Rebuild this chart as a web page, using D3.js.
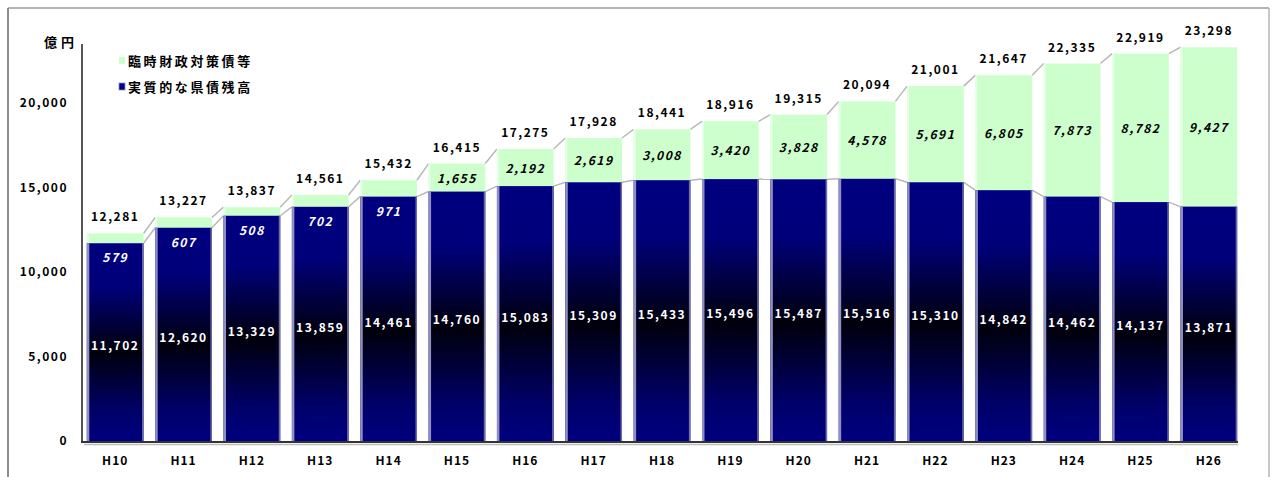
<!DOCTYPE html>
<html lang="ja">
<head>
<meta charset="utf-8">
<script src="https://cdn.jsdelivr.net/npm/d3@7"></script>
<style>
  html, body { margin: 0; padding: 0; background: #fff; }
  svg { display: block; }
  text { font-family: "MS PGothic", "Noto Sans CJK JP", "DejaVu Sans", sans-serif; }
</style>
</head>
<body>
<svg id="chart" width="1273" height="477"></svg>
<script>
// 年度
const years = ["H10","H11","H12","H13","H14","H15","H16","H17","H18","H19","H20","H21","H22","H23","H24","H25","H26"];
// 実質的な県債残高（億円）
const baseDebt = [11702, 12620, 13329, 13859, 14461, 14760, 15083, 15309, 15433, 15496, 15487, 15516, 15310, 14842, 14462, 14137, 13871];
// 臨時財政対策債等（億円）
const rinzai = [579, 607, 508, 702, 971, 1655, 2192, 2619, 3008, 3420, 3828, 4578, 5691, 6805, 7873, 8782, 9427];
// 合計（億円）
const totals = [12281, 13227, 13837, 14561, 15432, 16415, 17275, 17928, 18441, 18916, 19315, 20094, 21001, 21647, 22335, 22919, 23298];
// 目盛
const yTicks = [0, 5000, 10000, 15000, 20000];
const unitLabel = "億円";
const legendLabels = ["臨時財政対策債等", "実質的な県債残高"];

const svg = d3.select("#chart");
const fmt = d3.format(",");

// frame
svg.append("line").attr("x1", 8).attr("x2", 1269).attr("y1", 8).attr("y2", 8)
  .attr("stroke", "#b4b4b4").attr("stroke-width", 2);
svg.append("line").attr("x1", 8).attr("x2", 8).attr("y1", 8).attr("y2", 477)
  .attr("stroke", "#8c8c8c").attr("stroke-width", 2);
svg.append("line").attr("x1", 1269).attr("x2", 1269).attr("y1", 8).attr("y2", 477)
  .attr("stroke", "#b4b4b4").attr("stroke-width", 1.5);

const x = d3.scaleBand().domain(years).range([81, 1243]).paddingInner(0.17).paddingOuter(0.085);
const y = d3.scaleLinear().domain([0, 20000]).range([441, 103]);

// navy gradient (per bar)
const defs = svg.append("defs");
const g1 = defs.append("linearGradient").attr("id", "navyGrad")
  .attr("x1", 0).attr("y1", 0).attr("x2", 0).attr("y2", 1);
[[0, "#000080"], [0.22, "#00007a"], [0.55, "#00000c"], [0.85, "#000068"], [1, "#000080"]]
  .forEach(([o, c]) => g1.append("stop").attr("offset", o).attr("stop-color", c));

// connector lines between adjacent bar tops
const conn = svg.append("g").attr("stroke", "#b8b8b8").attr("stroke-width", 1.5).attr("fill", "none");
for (let i = 0; i < years.length - 1; i++) {
  const xa = x(years[i]) + x.bandwidth(), xb = x(years[i + 1]);
  conn.append("line").attr("x1", xa).attr("x2", xb).attr("y1", y(totals[i])).attr("y2", y(totals[i + 1]));
  conn.append("line").attr("x1", xa).attr("x2", xb).attr("y1", y(baseDebt[i])).attr("y2", y(baseDebt[i + 1]));
}

// bars
const bars = svg.append("g");
years.forEach((yr, i) => {
  const bx = x(yr), bw = x.bandwidth();
  const yb = y(baseDebt[i]), yt = y(baseDebt[i] + rinzai[i]);
  // upper segment
  bars.append("rect").attr("x", bx).attr("y", yt).attr("width", bw).attr("height", yb - yt)
    .attr("fill", "#ccffcc");
  bars.append("rect").attr("x", bx).attr("y", yt).attr("width", 2).attr("height", yb - yt).attr("fill", "#e6ffe6");
  // lower segment
  bars.append("rect").attr("x", bx).attr("y", yb).attr("width", bw).attr("height", y(0) - yb)
    .attr("fill", "url(#navyGrad)");
  bars.append("rect").attr("x", bx).attr("y", yb).attr("width", 2.5).attr("height", y(0) - yb).attr("fill", "#8f8fc4");
  bars.append("rect").attr("x", bx + bw - 1.5).attr("y", yb).attr("width", 1.5).attr("height", y(0) - yb).attr("fill", "#6c6ca8");
});

// axes
svg.append("line").attr("x1", 82).attr("x2", 82).attr("y1", 44).attr("y2", 442)
  .attr("stroke", "#555").attr("stroke-width", 2);
svg.append("line").attr("x1", 81).attr("x2", 1238).attr("y1", 442).attr("y2", 442)
  .attr("stroke", "#333").attr("stroke-width", 2);
svg.append("line").attr("x1", 84).attr("x2", 1238).attr("y1", 444.5).attr("y2", 444.5)
  .attr("stroke", "#bdbdbd").attr("stroke-width", 1.5);

const yAxis = d3.axisLeft(y).tickValues(yTicks).tickFormat(fmt).tickSize(0).tickPadding(14);
const ya = svg.append("g").attr("transform", "translate(82,0)").call(yAxis);
ya.select(".domain").remove();
ya.selectAll("text").attr("font-size", 12).attr("font-weight", "bold").attr("fill", "#000")
  .attr("letter-spacing", 1.5).attr("font-family", "\"MS PGothic\", \"Noto Sans CJK JP\", sans-serif");

const xAxis = d3.axisBottom(x).tickSize(0).tickPadding(14);
const xa = svg.append("g").attr("transform", "translate(0,442)").call(xAxis);
xa.select(".domain").remove();
xa.selectAll("text").attr("font-size", 12).attr("font-weight", "bold").attr("fill", "#000")
  .attr("letter-spacing", 1).attr("font-family", "\"MS PGothic\", \"Noto Sans CJK JP\", sans-serif");

// unit
svg.append("text").attr("x", 44).attr("y", 47).attr("font-size", 13).attr("font-weight", "bold")
  .attr("letter-spacing", 4).text(unitLabel);

// legend
const legendColors = ["#ccffcc", "#000080"];
legendLabels.forEach((t, i) => {
  const ly = 61 + i * 26;
  svg.append("rect").attr("x", 119).attr("y", ly - 4).attr("width", 6).attr("height", 7)
    .attr("fill", legendColors[i]).attr("stroke", i === 1 ? "#8f8fc4" : "none").attr("stroke-width", 0.8);
  svg.append("text").attr("x", 128).attr("y", ly + 5).attr("font-size", 13).attr("font-weight", "bold")
    .attr("letter-spacing", 2.6).text(t);
});

// value labels
const labels = svg.append("g").attr("font-size", 12).attr("font-weight", "bold").attr("text-anchor", "middle")
  .attr("letter-spacing", 1.5);
years.forEach((yr, i) => {
  const cx = x(yr) + x.bandwidth() / 2;
  const yb = y(baseDebt[i]), yt = y(baseDebt[i] + rinzai[i]);
  labels.append("text").attr("x", cx).attr("y", yt - 12).attr("fill", "#000").text(fmt(totals[i]));
  if (rinzai[i] < 1000) {
    labels.append("text").attr("x", cx).attr("y", yb + 19).attr("fill", "#fff")
      .attr("font-style", "italic").text(fmt(rinzai[i]));
  } else {
    labels.append("text").attr("x", cx).attr("y", (yt + yb) / 2 + 5).attr("fill", "#000")
      .attr("font-style", "italic").text(fmt(rinzai[i]));
  }
  labels.append("text").attr("x", cx).attr("y", (yb + y(0)) / 2 + 8).attr("fill", "#fff").text(fmt(baseDebt[i]));
});
</script>
</body>
</html>
